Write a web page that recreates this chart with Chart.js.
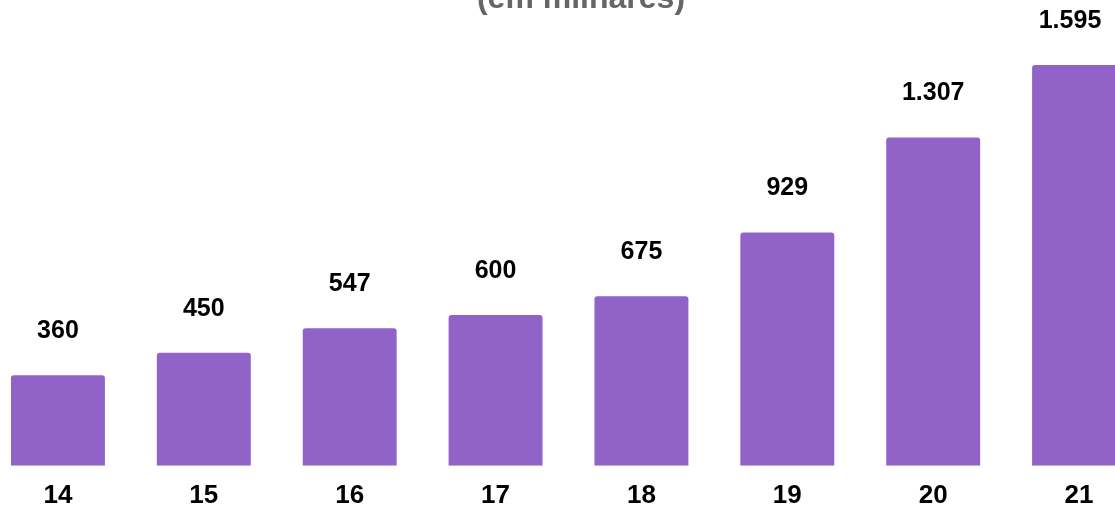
<!DOCTYPE html>
<html>
<head>
<meta charset="utf-8">
<script src="https://cdn.jsdelivr.net/npm/chart.js@4"></script>
<style>
    html, body { margin: 0; padding: 0; background: #fff; overflow: hidden; }
    .wrap { position: absolute; left: -15px; top: 0; width: 1167px; height: 508px; }
</style>
</head>
<body>
<div class="wrap"><canvas id="chart"></canvas></div>
<script>
const anos = ['14', '15', '16', '17', '18', '19', '20', '21'];
const valores = [360, 450, 547, 600, 675, 929, 1307, 1595];
const subtitulo = '(em milhares)';

const canvas = document.querySelector('#chart');

let formatNumber = (n) => n.toString().replace(/\B(?=(\d{3})+(?!\d))/g, '.');

// rótulos de valor em cima das barras + subtítulo
const labelsPlugin = {
    id: 'labels',
    afterDatasetsDraw(chart) {
        const ctx = chart.ctx;
        const meta = chart.getDatasetMeta(0);
        ctx.save();
        ctx.fillStyle = '#000';
        ctx.font = 'bold 25px "Liberation Sans", Arial, sans-serif';
        ctx.textAlign = 'center';
        ctx.textBaseline = 'middle';
        meta.data.forEach((bar, i) => {
            // o último rótulo fica encostado na borda direita
            let x = Math.min(bar.x, chart.width - 82);
            ctx.fillText(formatNumber(valores[i]), x, bar.y - 44);
        });
        ctx.fillStyle = '#666';
        ctx.font = 'bold 32px "Liberation Sans", Arial, sans-serif';
        ctx.textBaseline = 'alphabetic';
        ctx.fillText(subtitulo, 596, 8);
        ctx.restore();
    }
};

let chart = new Chart(canvas, {
    type: 'bar',
    data: {
        labels: anos,
        datasets: [{
            data: valores,
            backgroundColor: '#9163C9',
            borderRadius: 3,
            borderSkipped: 'bottom',
            categoryPercentage: 1,
            barPercentage: 0.644,
        }],
    },
    options: {
        responsive: true,
        maintainAspectRatio: false,
        animation: false,
        layout: { padding: { top: 0, left: 0, right: 0, bottom: -17 } },
        plugins: {
            legend: { display: false },
            tooltip: { enabled: false },
        },
        scales: {
            x: {
                grid: { display: false, drawTicks: false },
                border: { display: false },
                ticks: {
                    color: '#000',
                    padding: 14,
                    font: { family: '"Liberation Sans", Arial, sans-serif', size: 26, weight: 'bold' },
                },
            },
            y: {
                display: false,
                min: 0,
                max: 1854,
            },
        },
    },
    plugins: [labelsPlugin],
});
</script>
</body>
</html>
